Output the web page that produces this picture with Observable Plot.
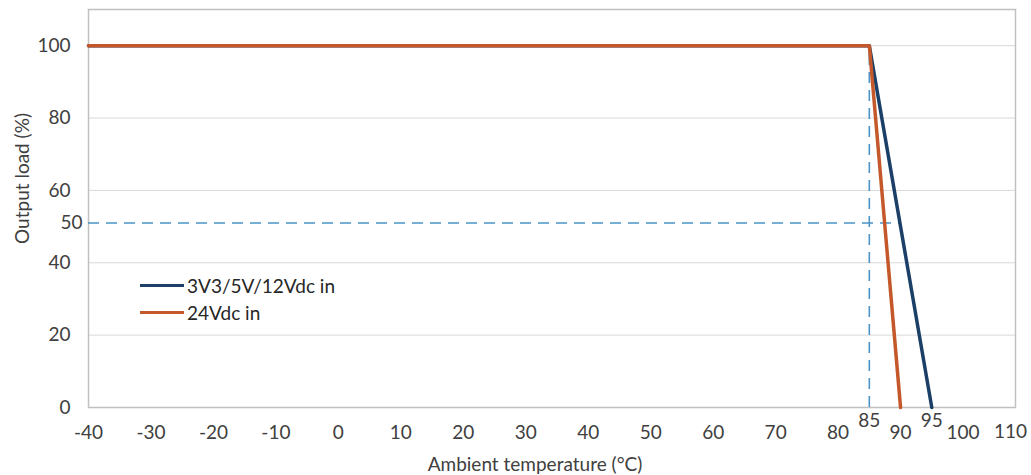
<!DOCTYPE html>
<html><head><meta charset="utf-8">
<script src="https://cdn.jsdelivr.net/npm/d3@7"></script>
<script src="https://cdn.jsdelivr.net/npm/@observablehq/plot@0.6"></script>
<style>
body{margin:0;background:#fff;font-family:Lato,"Open Sans",sans-serif;}
#wrap{position:relative;width:1031px;height:475px;}
.leg{position:absolute;left:140px;font:19px/23px Lato,sans-serif;color:#262626;display:flex;align-items:center;}
.leg span.sw{display:inline-block;width:44px;height:3.5px;margin-right:3px;}
</style></head>
<body><div id="wrap"></div>
<script>
const seriesNames = ["3V3/5V/12Vdc in", "24Vdc in"];
const seriesColors = ["#1b3f66", "#c4582a"];
const temp3v3 = [-40, 85, 95];
const load3v3 = [100, 100, 0];
const temp24 = [-40, 85, 90];
const load24 = [100, 100, 0];
const xTicks = [-40, -30, -20, -10, 0, 10, 20, 30, 40, 50, 60, 70, 80, 90, 100];
const xLastTick = 110;
const yTicks = [0, 20, 40, 60, 80, 100];
const markTemps = [85, 95];
const markLoad = 51;
const markLoadLabel = "50";
const dashV = {x: 85, y1: 0, y2: 100};
const dashH = {y: 51, x1: -40, x2: 90};
const xMax = 108.4;

const s1 = temp3v3.map((t, i) => ({t, v: load3v3[i], s: seriesNames[0]}));
const s2 = temp24.map((t, i) => ({t, v: load24[i], s: seriesNames[1]}));
const font = "Lato, sans-serif";
const txt = "#404040";
const fs = 19;

const chart = Plot.plot({
  width: 1031, height: 475,
  marginLeft: 88, marginRight: 16, marginTop: 9, marginBottom: 68,
  style: {fontFamily: font, fontSize: fs + "px", color: txt, background: "#fff"},
  x: {domain: [-40, xMax]},
  y: {domain: [0, 110]},
  marks: [
    Plot.gridY(yTicks.filter(d => d > 0), {stroke: "#d9d9d9", strokeOpacity: 1, strokeWidth: 1}),
    Plot.frame({stroke: "#c0c0c0", strokeWidth: 1.5}),
    Plot.axisX(xTicks, {tickSize: 0, tickPadding: 18, fontSize: fs, fill: txt, label: null, tickFormat: d => String(d)}),
    Plot.text([xLastTick], {x: d => Math.min(d, xMax), text: d => String(d), frameAnchor: "bottom", dy: 30, dx: -5, fontSize: fs, fill: txt}),
    Plot.axisY(yTicks, {tickSize: 0, tickPadding: 18, fontSize: fs, fill: txt, label: null, tickFormat: d => String(d)}),
    Plot.text([markLoad], {y: d => d, text: () => markLoadLabel, frameAnchor: "left", dx: -6, textAnchor: "end", fontSize: fs, fill: txt}),
    Plot.text(markTemps, {x: d => d, text: d => String(d), frameAnchor: "bottom", dy: 19, fontSize: fs, fill: txt}),
    Plot.ruleX([dashV], {x: "x", y1: "y1", y2: "y2", stroke: "#4a94c8", strokeWidth: 1.6, strokeDasharray: "11,7"}),
    Plot.ruleY([dashH], {y: "y", x1: "x1", x2: "x2", stroke: "#4a94c8", strokeWidth: 1.6, strokeDasharray: "11,7"}),
    Plot.line(s1, {x: "t", y: "v", stroke: seriesColors[0], strokeWidth: 3.5}),
    Plot.line(s2, {x: "t", y: "v", stroke: seriesColors[1], strokeWidth: 3.5}),
    Plot.text(["Output load (%)"], {frameAnchor: "left", textAnchor: "middle", dx: -66, dy: -30, rotate: -90, fontSize: fs, fill: txt}),
    Plot.text(["Ambient temperature (°C)"], {frameAnchor: "bottom", dx: -17, dy: 63, fontSize: fs, fill: txt})
  ]
});
const wrap = document.getElementById("wrap");
wrap.appendChild(chart);
seriesNames.forEach((n, i) => {
  const d = document.createElement("div");
  d.className = "leg";
  d.style.top = (274 + i * 27) + "px";
  d.innerHTML = `<span class="sw" style="background:${seriesColors[i]}"></span>${n}`;
  wrap.appendChild(d);
});
</script></body></html>
